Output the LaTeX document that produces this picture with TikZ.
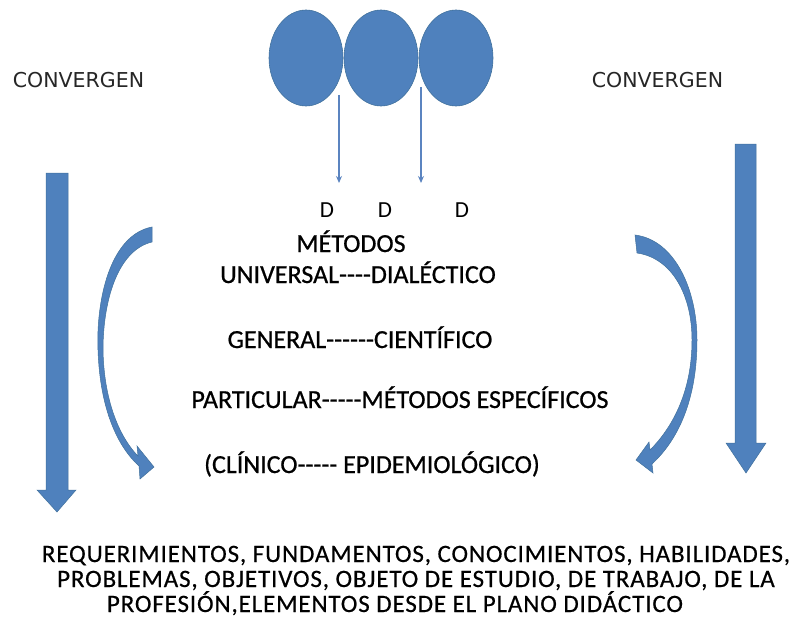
\documentclass[tikz,border=0pt]{standalone}
\usepackage{fontspec}
\newfontfamily\calf{Carlito}
\newfontfamily\calbf{Carlito}[FakeBold=0.7]
\newfontfamily\calbot{Carlito}[FakeBold=0.5, LetterSpace=3.5]
\newfontfamily\convfont{DejaVu Sans}
\definecolor{ofblue}{HTML}{4F81BD}
\definecolor{ofedge}{HTML}{41719C}
\definecolor{thinblue}{HTML}{5B84C0}
\usetikzlibrary{shapes.geometric, arrows.meta}
\tikzset{
  bubble/.style={ellipse, minimum width=74pt, minimum height=96pt, fill=ofblue, draw=ofedge, line width=0.6pt, inner sep=0pt},
  bigarrow/.style={fill=ofblue, draw=ofedge, line width=0.5pt},
  thinarrow/.style={draw=thinblue, line width=1.2pt, -{Stealth[length=7pt,width=6pt]}},
  midtext/.style={anchor=base, font=\calbf\fontsize{26}{30}\selectfont, inner sep=0pt},
  dtext/.style={anchor=base, font=\calf\fontsize{23}{26}\selectfont, inner sep=0pt},
  convtext/.style={anchor=base, font=\convfont\fontsize{20.5}{24}\selectfont, text=black!85, inner sep=0pt},
  bottext/.style={anchor=base, font=\calbot\fontsize{25}{25}\selectfont, inner sep=0pt}
}
\begin{document}
\begin{tikzpicture}[x=1pt, y=-1pt]
\useasboundingbox (0,0) rectangle (797,623);
% ellipses
\node[bubble] (e1) at (306,58) {};
\node[bubble] (e2) at (381,58) {};
\node[bubble] (e3) at (456,58) {};
% D letters
\node[dtext] (d1) at (327,217) {D};
\node[dtext] (d2) at (385,217) {D};
\node[dtext] (d3) at (462,217) {D};
% thin arrows
\coordinate (a1s) at (339,95);
\coordinate (a1e) at (339,183);
\coordinate (a2s) at (421,87);
\coordinate (a2e) at (421,183);
\draw[thinarrow] (a1s) -- (a1e);
\draw[thinarrow] (a2s) -- (a2e);
% CONVERGEN
\node[convtext] (cl) at (78.5,88) {CONVERGEN};
\node[convtext] (cr) at (657.5,88) {CONVERGEN};
% middle texts
\node[midtext] (t0) at (351,252) {MÉTODOS};
\node[midtext] (t1) at (358,283) {UNIVERSAL----DIALÉCTICO};
\node[midtext] (t2) at (360,348) {GENERAL------CIENTÍFICO};
\node[midtext] (t3) at (400,408) {PARTICULAR-----MÉTODOS ESPECÍFICOS};
\node[midtext] (t4) at (372,473) {(CLÍNICO----- EPIDEMIOLÓGICO)};
% bottom texts
\node[bottext] (b1) at (416,562) {REQUERIMIENTOS, FUNDAMENTOS, CONOCIMIENTOS, HABILIDADES,};
\node[bottext] (b2) at (416,587) {PROBLEMAS, OBJETIVOS, OBJETO DE ESTUDIO, DE TRABAJO, DE LA};
\node[bottext] (b3) at (395,612) {PROFESIÓN,ELEMENTOS DESDE EL PLANO DIDÁCTICO};
% big vertical arrows
\fill[bigarrow] (46,173) -- (68,173) -- (68,490) -- (76,490) -- (57,512) -- (37,490) -- (46,490) -- cycle;
\fill[bigarrow] (735,144) -- (756,144) -- (756,443) -- (766,443) -- (746,473) -- (726,443) -- (735,443) -- cycle;
% left curved arrow
\fill[bigarrow] (152,227) .. controls (110,235) and (96,300) .. (98,350)
  .. controls (100,410) and (118,447) .. (139,466)
  -- (140,479) -- (154,467) -- (137,446) -- (138,456)
  .. controls (122,440) and (104,405) .. (103,350)
  .. controls (103,300) and (118,250) .. (152,242) -- cycle;
% right curved arrow
\fill[bigarrow] (635,235) .. controls (675,240) and (697,290) .. (697,340)
  .. controls (697,400) and (678,440) .. (652,464)
  -- (653,473) -- (636,460) -- (649,442) -- (650,450)
  .. controls (670,430) and (692,395) .. (692,340)
  .. controls (692,295) and (672,258) .. (637,253) -- cycle;
\end{tikzpicture}
\end{document}
